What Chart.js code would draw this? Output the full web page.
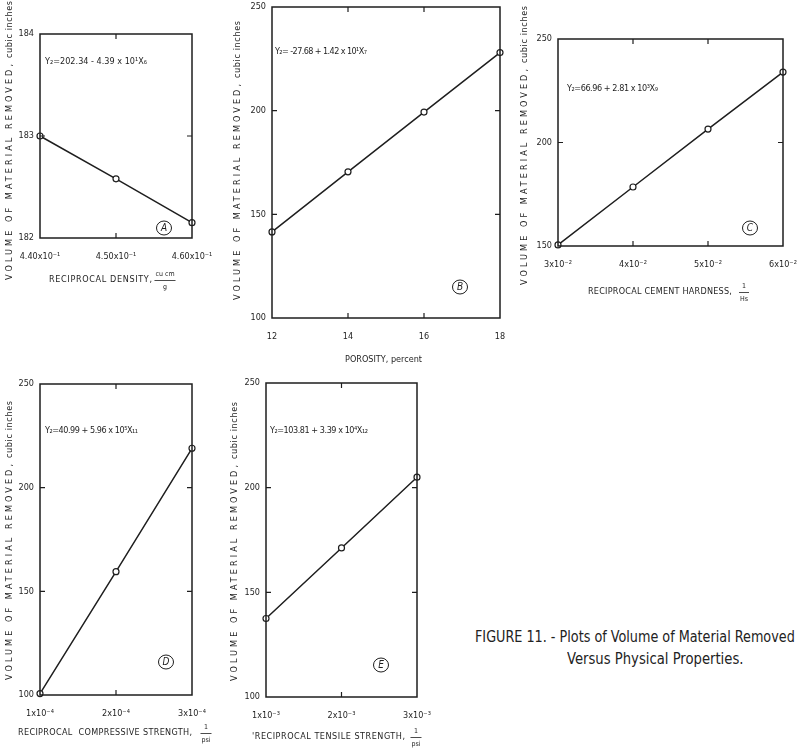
<!DOCTYPE html>
<html>
<head>
<meta charset="utf-8">
<script src="https://cdn.jsdelivr.net/npm/chart.js@4.4.0/dist/chart.umd.min.js"></script>
<style>
  body { margin: 0; background: #fff; width: 800px; height: 755px; overflow: hidden; position: relative; }
  canvas { position: absolute; }
  .cap { position: absolute; white-space: nowrap; color: #222; font-size: 16px; line-height: 16px;
         font-family: "DejaVu Sans Condensed", "Liberation Sans Narrow", "DejaVu Sans", sans-serif;
         transform-origin: 0 0; }
</style>
</head>
<body>
<div class="cap" id="cap1" data-w="320" style="left:475px;top:629px">FIGURE 11. - Plots of Volume of Material Removed</div>
<div class="cap" id="cap2" data-w="176" style="left:567px;top:651px">Versus Physical Properties.</div>
<script>
// panel A - reciprocal density
const aX = [0.44, 0.45, 0.46];
const aY = [183.0, 182.58, 182.15];
const aXTicks = [0.44, 0.45, 0.46];
const aXLabels = ["4.40x10⁻¹", "4.50x10⁻¹", "4.60x10⁻¹"];
const aYTicks = [182, 183, 184];

// panel B - porosity
const bX = [12, 14, 16, 18];
const bY = [141.5, 170.5, 199.3, 228];
const bXTicks = [12, 14, 16, 18];
const bXLabels = ["12", "14", "16", "18"];
const bYTicks = [100, 150, 200, 250];

// panel C - reciprocal cement hardness
const cX = [0.03, 0.04, 0.05, 0.06];
const cY = [150.5, 178.5, 206.5, 234];
const cXTicks = [0.03, 0.04, 0.05, 0.06];
const cXLabels = ["3x10⁻²", "4x10⁻²", "5x10⁻²", "6x10⁻²"];
const cYTicks = [150, 200, 250];

// panel D - reciprocal compressive strength
const dX = [1e-4, 2e-4, 3e-4];
const dY = [100.7, 159.5, 219];
const dXTicks = [1e-4, 2e-4, 3e-4];
const dXLabels = ["1x10⁻⁴", "2x10⁻⁴", "3x10⁻⁴"];
const dYTicks = [100, 150, 200, 250];

// panel E - reciprocal tensile strength
const eX = [1e-3, 2e-3, 3e-3];
const eY = [137.5, 171.2, 205];
const eXTicks = [1e-3, 2e-3, 3e-3];
const eXLabels = ["1x10⁻³", "2x10⁻³", "3x10⁻³"];
const eYTicks = [100, 150, 200, 250];

const INK = "#1e1e1e";
const FONT = '"DejaVu Sans Condensed", "Liberation Sans Narrow", "DejaVu Sans", sans-serif';
const PL = 45, PT = 40, PR = 22, PB = 75;

// layout of each panel (page pixels)
const panels = [
  {
    xs: aX, ys: aY, xTicks: aXTicks, xLabels: aXLabels, yTicks: aYTicks,
    box: { l: 40, t: 34, r: 192, b: 238 },
    eq: { text: "Y₂=202.34 - 4.39 x 10¹X₆", x: 45, y: 62, w: 102 },
    letter: { text: "A", x: 164, y: 228 },
    yTitle: { x: 10, bottom: 280 },
    xTitle: { text: "RECIPROCAL DENSITY,", x: 49, w: 103, y: 280, num: "cu cm", den: "g", fx: 165 },
  },
  {
    xs: bX, ys: bY, xTicks: bXTicks, xLabels: bXLabels, yTicks: bYTicks,
    box: { l: 272, t: 7, r: 500, b: 318 },
    eq: { text: "Y₂= -27.68 + 1.42 x 10¹X₇", x: 275, y: 52, w: 92 },
    letter: { text: "B", x: 460, y: 287 },
    yTitle: { x: 238, bottom: 300 },
    xTitle: { text: "POROSITY, percent", x: 345, w: 77, y: 360 },
  },
  {
    xs: cX, ys: cY, xTicks: cXTicks, xLabels: cXLabels, yTicks: cYTicks,
    box: { l: 558, t: 39, r: 783, b: 246 },
    eq: { text: "Y₂=66.96 + 2.81 x 10³X₉", x: 567, y: 89, w: 91 },
    letter: { text: "C", x: 750, y: 228 },
    yTitle: { x: 525, bottom: 285 },
    xTitle: { text: "RECIPROCAL CEMENT HARDNESS,", x: 588, w: 144, y: 292, num: "1", den: "Hs", fx: 744 },
  },
  {
    xs: dX, ys: dY, xTicks: dXTicks, xLabels: dXLabels, yTicks: dYTicks,
    box: { l: 40, t: 384, r: 192, b: 695 },
    eq: { text: "Y₂=40.99 + 5.96 x 10⁵X₁₁", x: 45, y: 431, w: 93 },
    letter: { text: "D", x: 166, y: 662 },
    yTitle: { x: 10, bottom: 680 },
    xTitle: { text: "RECIPROCAL  COMPRESSIVE STRENGTH,", x: 18, w: 174, y: 733, num: "1", den: "psi", fx: 206 },
  },
  {
    xs: eX, ys: eY, xTicks: eXTicks, xLabels: eXLabels, yTicks: eYTicks,
    box: { l: 266, t: 383, r: 417, b: 697 },
    eq: { text: "Y₂=103.81 + 3.39 x 10⁴X₁₂", x: 270, y: 431, w: 98 },
    letter: { text: "E", x: 381, y: 665 },
    yTitle: { x: 235, bottom: 681 },
    xTitle: { text: "'RECIPROCAL TENSILE STRENGTH,", x: 252, w: 153, y: 737, num: "1", den: "psi", fx: 416 },
  },
];

// draw text stretched/squeezed by letter spacing so it spans w pixels
function fitText(ctx, text, x, y, w) {
  ctx.letterSpacing = "0px";
  const m = ctx.measureText(text).width;
  const sp = (w - m) / Math.max(1, text.length - 1);
  ctx.letterSpacing = sp.toFixed(2) + "px";
  ctx.fillText(text, x, y);
  ctx.letterSpacing = "0px";
}

const decorPlugin = {
  id: "decor",
  afterDraw(chart) {
    const p = chart.options.plugins.decor.panel;
    const ctx = chart.ctx;
    const ox = p.box.l - PL, oy = p.box.t - PT;
    const { left, top, right, bottom } = chart.chartArea;
    const xs = chart.scales.x, ys = chart.scales.y;
    ctx.save();
    ctx.strokeStyle = INK;
    ctx.fillStyle = INK;
    ctx.lineWidth = 1.5;
    ctx.strokeRect(left, top, right - left, bottom - top);

    // inward tick marks on all four sides
    ctx.lineWidth = 1.2;
    ctx.beginPath();
    p.xTicks.slice(1, -1).forEach(v => {
      const px = xs.getPixelForValue(v);
      ctx.moveTo(px, top); ctx.lineTo(px, top + 5);
      ctx.moveTo(px, bottom); ctx.lineTo(px, bottom - 5);
    });
    p.yTicks.slice(1, -1).forEach(v => {
      const py = ys.getPixelForValue(v);
      ctx.moveTo(left, py); ctx.lineTo(left + 5, py);
      ctx.moveTo(right, py); ctx.lineTo(right - 5, py);
    });
    ctx.stroke();

    // equation
    ctx.font = "9px " + FONT;
    ctx.textBaseline = "middle";
    ctx.textAlign = "left";
    fitText(ctx, p.eq.text, p.eq.x - ox, p.eq.y - oy, p.eq.w);

    // circled panel letter
    ctx.lineWidth = 1;
    ctx.beginPath();
    ctx.ellipse(p.letter.x - ox, p.letter.y - oy, 7.5, 7, 0, 0, Math.PI * 2);
    ctx.stroke();
    ctx.font = "italic 10px " + FONT;
    ctx.textAlign = "center";
    ctx.fillText(p.letter.text, p.letter.x - ox, p.letter.y - oy + 0.5);

    // x axis title with optional fraction
    const t = p.xTitle;
    ctx.font = "9px " + FONT;
    ctx.textAlign = "left";
    fitText(ctx, t.text, t.x - ox, t.y - oy, t.w);
    if (t.num) {
      ctx.font = "7px " + FONT;
      ctx.textAlign = "center";
      const fx = t.fx - ox;
      ctx.fillText(t.num, fx, t.y - oy - 6);
      ctx.fillText(t.den, fx, t.y - oy + 7);
      const hw = Math.max(ctx.measureText(t.num).width, ctx.measureText(t.den).width) / 2 + 1;
      ctx.lineWidth = 0.8;
      ctx.beginPath();
      ctx.moveTo(fx - hw, t.y - oy + 0.5); ctx.lineTo(fx + hw, t.y - oy + 0.5);
      ctx.stroke();
    }

    // rotated y axis title
    ctx.translate(p.yTitle.x - ox, p.yTitle.bottom - oy);
    ctx.rotate(-Math.PI / 2);
    ctx.font = "9px " + FONT;
    ctx.textAlign = "left";
    fitText(ctx, "VOLUME OF MATERIAL REMOVED,", 0, 0, 216);
    fitText(ctx, "cubic inches", 222, 0, 57);
    ctx.restore();
  }
};

panels.forEach(p => {
  const cv = document.createElement("canvas");
  const w = p.box.r - p.box.l + PL + PR;
  const h = p.box.b - p.box.t + PT + PB;
  cv.width = w; cv.height = h;
  cv.style.left = (p.box.l - PL) + "px";
  cv.style.top = (p.box.t - PT) + "px";
  document.body.appendChild(cv);

  const tickFont = { family: FONT, size: 9 };
  new Chart(cv.getContext("2d"), {
    type: "line",
    data: {
      datasets: [{
        data: p.xs.map((x, i) => ({ x: x, y: p.ys[i] })),
        borderColor: INK,
        borderWidth: 1.5,
        pointRadius: 3,
        pointBorderWidth: 1.2,
        pointBackgroundColor: "#fff",
        pointBorderColor: INK,
        tension: 0,
        clip: false,
      }],
    },
    options: {
      responsive: false,
      animation: false,
      devicePixelRatio: 1,
      layout: { padding: { left: 0, top: PT, right: PR, bottom: 0 } },
      plugins: {
        legend: { display: false },
        tooltip: { enabled: false },
        decor: { panel: p },
      },
      scales: {
        x: {
          type: "linear",
          min: p.xTicks[0],
          max: p.xTicks[p.xTicks.length - 1],
          afterBuildTicks: s => { s.ticks = p.xTicks.map(v => ({ value: v })); },
          afterFit: s => { s.height = PB; s.paddingLeft = 0; s.paddingRight = 0; },
          grid: { display: false, drawTicks: false },
          border: { display: false },
          ticks: {
            padding: 13, maxRotation: 0, autoSkip: false, color: INK, font: tickFont,
            callback: (v, i) => p.xLabels[i],
          },
        },
        y: {
          type: "linear",
          min: p.yTicks[0],
          max: p.yTicks[p.yTicks.length - 1],
          afterBuildTicks: s => { s.ticks = p.yTicks.map(v => ({ value: v })); },
          afterFit: s => { s.width = PL; s.paddingTop = 0; s.paddingBottom = 0; },
          grid: { display: false, drawTicks: false },
          border: { display: false },
          ticks: {
            padding: 6, autoSkip: false, color: INK, font: tickFont,
            callback: v => String(v),
          },
        },
      },
    },
    plugins: [decorPlugin],
  });
});

// squeeze caption lines to the width they take in the figure
document.querySelectorAll(".cap").forEach(el => {
  const target = +el.dataset.w;
  el.style.transform = "scaleX(" + (target / el.offsetWidth).toFixed(3) + ")";
});
</script>
</body>
</html>
